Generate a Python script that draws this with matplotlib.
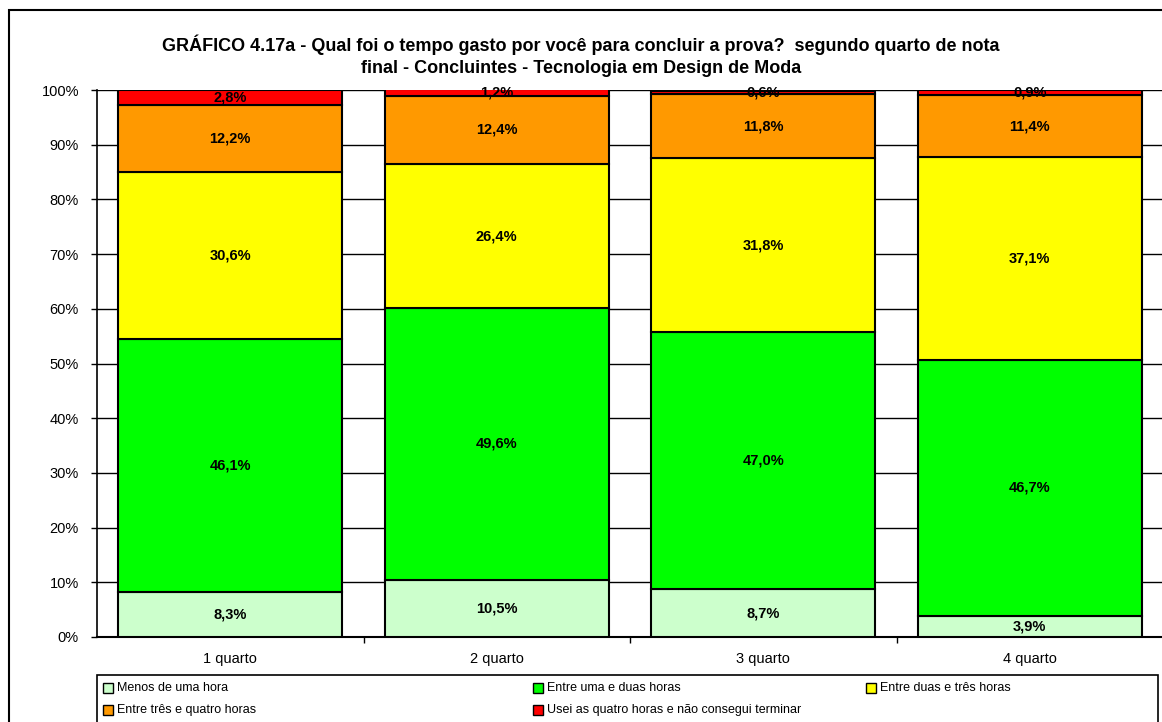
import matplotlib
matplotlib.use("Agg")
import matplotlib.pyplot as plt
from matplotlib.patches import Rectangle
import numpy as np

plt.rcParams['font.family'] = ['Liberation Sans', 'DejaVu Sans']

quartos = ['1 quarto', '2 quarto', '3 quarto', '4 quarto']
series = ['Menos de uma hora', 'Entre uma e duas horas', 'Entre duas e três horas',
          'Entre três e quatro horas', 'Usei as quatro horas e não consegui terminar']
menos_1h = [8.3, 10.5, 8.7, 3.9]
entre_1_2h = [46.1, 49.6, 47.0, 46.7]
entre_2_3h = [30.6, 26.4, 31.8, 37.1]
entre_3_4h = [12.2, 12.4, 11.8, 11.4]
usei_4h = [2.8, 1.2, 0.6, 0.9]
colors = ['#CCFFCC', '#00FF00', '#FFFF00', '#FF9900', '#FF0000']

title = ('GRÁFICO 4.17a - Qual foi o tempo gasto por você para concluir a prova?  segundo quarto de nota\n'
         'final - Concluintes - Tecnologia em Design de Moda')

W, H = 1162, 722
fig = plt.figure(figsize=(W / 100, H / 100), dpi=100)

# outer frame
fig.patches.append(Rectangle((9 / W, -0.05), 1.1, 1 - 10 / H + 0.05, transform=fig.transFigure,
                             fill=False, edgecolor='black', linewidth=1.5))

ax = fig.add_axes([97 / W, 1 - 637 / H, 1066 / W, (637 - 90) / H])

x = np.arange(len(quartos))
data = [menos_1h, entre_1_2h, entre_2_3h, entre_3_4h, usei_4h]
bottom = np.zeros(len(quartos))
for vals, col, name in zip(data, colors, series):
    vals = np.array(vals)
    ax.bar(x, vals, 0.84, bottom=bottom, color=col, edgecolor='black', linewidth=1.5,
           label=name, zorder=3)
    for xi, b, v in zip(x, bottom, vals):
        ax.text(xi, b + v / 2, f"{v:.1f}".replace('.', ',') + '%', ha='center', va='center',
                fontsize=10.5, fontweight='bold', zorder=4)
    bottom += vals

ax.set_xlim(-0.5, len(quartos) - 0.5)
ax.set_ylim(0, 100)
ax.set_yticks(np.arange(0, 101, 10))
ax.set_yticklabels([f"{v}%" for v in range(0, 101, 10)], fontsize=10.5)
ax.set_xticks(x)
ax.set_xticklabels(quartos, fontsize=10.5)
ax.set_xticks(np.arange(0.5, len(quartos) - 0.5, 1), minor=True)
ax.tick_params(axis='x', which='major', length=0, pad=11)
ax.tick_params(axis='x', which='minor', length=4, width=1, direction='out')
ax.tick_params(axis='y', length=4, width=1, direction='out', pad=9)
ax.grid(axis='y', color='black', linewidth=1, zorder=0)
ax.set_axisbelow(True)
for s in ['top', 'right']:
    ax.spines[s].set_visible(False)
ax.spines['left'].set_linewidth(1.2)
ax.spines['bottom'].set_linewidth(1.5)

fig.text(581 / W, 1 - 56 / H, title, ha='center', va='center', fontsize=13,
         fontweight='bold', linespacing=1.4)

# legend box
fig.patches.append(Rectangle((97 / W, -0.05), (1158 - 97) / W, (722 - 675) / H + 0.05,
                             transform=fig.transFigure, fill=False, edgecolor='black', linewidth=1.2))
leg_pos = [(103, 688), (533, 688), (866, 688), (103, 710), (533, 710)]
for (lx, ly), col, name in zip(leg_pos, colors, series):
    fig.patches.append(Rectangle((lx / W, 1 - (ly + 5) / H), 10 / W, 10 / H,
                                 transform=fig.transFigure, facecolor=col,
                                 edgecolor='black', linewidth=1))
    fig.text((lx + 14) / W, 1 - ly / H, name, ha='left', va='center', fontsize=9)

fig.savefig('out.png', dpi=100)
